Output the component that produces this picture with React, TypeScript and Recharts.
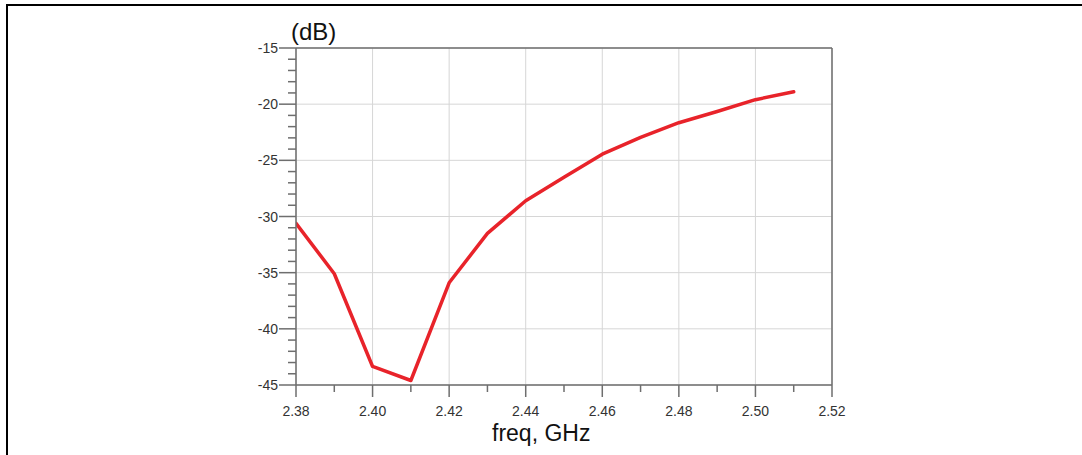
import React from 'react';
import {
  LineChart,
  Line,
  XAxis,
  YAxis,
  ReferenceLine,
} from 'recharts';

const FREQ = [2.38, 2.39, 2.40, 2.41, 2.42, 2.43, 2.44, 2.45, 2.46, 2.47, 2.48, 2.49, 2.50, 2.51];
const S11  = [-30.6, -35.1, -43.35, -44.6, -35.9, -31.5, -28.6, -26.5, -24.45, -22.95, -21.65, -20.65, -19.6, -18.9];

const X_MAJOR = [2.38, 2.40, 2.42, 2.44, 2.46, 2.48, 2.50, 2.52];
const X_ALL   = [2.38, 2.39, 2.40, 2.41, 2.42, 2.43, 2.44, 2.45, 2.46, 2.47, 2.48, 2.49, 2.50, 2.51, 2.52];
const Y_MAJOR = [-45, -40, -35, -30, -25, -20, -15];
const Y_ALL   = [
  -45, -44, -43, -42, -41, -40, -39, -38, -37, -36, -35, -34, -33, -32, -31, -30,
  -29, -28, -27, -26, -25, -24, -23, -22, -21, -20, -19, -18, -17, -16, -15,
];

const LINE_COLOR = '#e8232a';
const AXIS_COLOR = '#6e6e6e';
const GRID_COLOR = '#d6d6d6';
const FONT       = '"Liberation Sans", Arial, sans-serif';

const data = FREQ.map((f, i) => ({ freq: f, s11: S11[i] }));

const isMajor = (v: number, majors: number[]) => majors.some((m) => Math.abs(m - v) < 1e-6);

function XTick(props: any) {
  const { x, y, payload } = props;
  const major = isMajor(payload.value, X_MAJOR);
  return (
    <g>
      <line x1={x} x2={x} y1={y} y2={y + (major ? 12 : 7)} stroke={AXIS_COLOR} strokeWidth={1.5} />
      {major && (
        <text x={x} y={y + 31} textAnchor="middle" fontSize={14} fill="#333" fontFamily={FONT}>
          {payload.value.toFixed(2)}
        </text>
      )}
    </g>
  );
}

function YTick(props: any) {
  const { x, y, payload } = props;
  const major = isMajor(payload.value, Y_MAJOR);
  return (
    <g>
      <line x1={x - (major ? 17 : 8)} x2={x} y1={y} y2={y} stroke={AXIS_COLOR} strokeWidth={1.5} />
      {major && (
        <text x={x - 18} y={y + 5} textAnchor="end" fontSize={14} fill="#333" fontFamily={FONT}>
          {payload.value}
        </text>
      )}
    </g>
  );
}

export default function App() {
  return (
    <div style={{ position: 'absolute', left: 0, top: 0, width: 1082, height: 455, background: '#fff', fontFamily: FONT }}>
      {/* outer frame */}
      <div style={{ position: 'absolute', left: 6, top: 4, width: 1076, height: 451, borderTop: '2px solid #000', borderLeft: '2px solid #000', boxSizing: 'border-box' }} />

      <div style={{ position: 'absolute', left: 0, top: 0 }}>
        <LineChart width={1082} height={455} data={data} margin={{ top: 48, right: 250, bottom: 0, left: 0 }}>
          {Y_MAJOR.map((v) => (
            <ReferenceLine key={`gy${v}`} y={v} stroke={GRID_COLOR} strokeWidth={1} />
          ))}
          {X_MAJOR.map((v) => (
            <ReferenceLine key={`gx${v}`} x={v} stroke={GRID_COLOR} strokeWidth={1} />
          ))}
          <ReferenceLine y={-15} stroke={AXIS_COLOR} strokeWidth={1.5} />
          <ReferenceLine x={2.52} stroke={AXIS_COLOR} strokeWidth={1.5} />
          <XAxis
            dataKey="freq"
            type="number"
            domain={[2.38, 2.52]}
            ticks={X_ALL}
            interval={0}
            height={70}
            tickSize={0}
            tickMargin={0}
            tickLine={false}
            axisLine={{ stroke: AXIS_COLOR, strokeWidth: 1.5 }}
            tick={<XTick />}
            allowDataOverflow
          />
          <YAxis
            type="number"
            domain={[-45, -15]}
            ticks={Y_ALL}
            interval={0}
            width={296}
            tickSize={0}
            tickMargin={0}
            tickLine={false}
            axisLine={{ stroke: AXIS_COLOR, strokeWidth: 1.5 }}
            tick={<YTick />}
            allowDataOverflow
          />
          <Line
            type="linear"
            dataKey="s11"
            stroke={LINE_COLOR}
            strokeWidth={3.5}
            dot={false}
            strokeLinejoin="round"
            strokeLinecap="round"
            isAnimationActive={false}
          />
        </LineChart>
      </div>

      <div style={{ position: 'absolute', left: 291, top: 20, fontSize: 24, color: '#111', lineHeight: 1 }}>(dB)</div>
      <div style={{ position: 'absolute', left: 0, width: 1085, top: 422, fontSize: 23, color: '#111', lineHeight: 1, textAlign: 'center', paddingLeft: 0 }}>
        <span style={{ position: 'absolute', left: 492, whiteSpace: 'nowrap' }}>freq, GHz</span>
      </div>
    </div>
  );
}
